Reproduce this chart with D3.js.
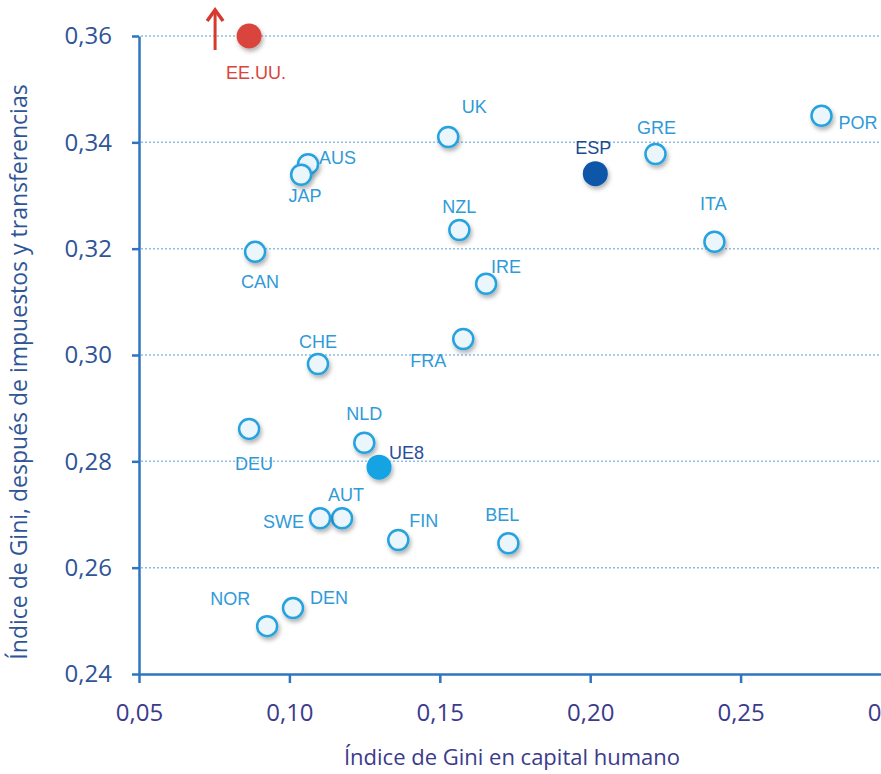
<!DOCTYPE html>
<html>
<head>
<meta charset="utf-8">
<script src="https://cdn.jsdelivr.net/npm/d3@7"></script>
<style>
  body { margin: 0; background: #fff; }
  svg { display: block; }
  .ax text { font-family: "Open Sans", sans-serif; }
</style>
</head>
<body>
<div id="chart"></div>
<script>
// country codes, x = Gini human capital, y = Gini after taxes & transfers
const countries = ["EE.UU.", "UK", "AUS", "JAP", "CAN", "NZL", "IRE", "ESP", "GRE", "POR", "ITA",
  "CHE", "FRA", "DEU", "NLD", "UE8", "AUT", "SWE", "FIN", "BEL", "NOR", "DEN"];
const giniHuman = [0.0866, 0.1528, 0.1062, 0.1039, 0.0886, 0.1565, 0.1654, 0.2017, 0.2217, 0.2769, 0.2413,
  0.1095, 0.1578, 0.0866, 0.1249, 0.1298, 0.1175, 0.1102, 0.1362, 0.1728, 0.0926, 0.1012];
const giniIncome = [0.360, 0.341, 0.3359, 0.3339, 0.3194, 0.3235, 0.3134, 0.3341, 0.3378, 0.345, 0.3213,
  0.2983, 0.303, 0.2861, 0.2835, 0.2789, 0.2693, 0.2693, 0.2652, 0.2646, 0.249, 0.2524];
// label placement relative to the point: [dx, dy of text centre, anchor]
const labelPos = [[7, 36, "middle"], [26, -31, "middle"], [11, -7, "start"], [4, 21, "middle"], [5, 30, "middle"],
  [0, -24, "middle"], [5, -17, "start"], [-2, -26, "middle"], [1, -27, "middle"], [17, 7, "start"],
  [-1, -38, "middle"], [0, -23, "middle"], [-35, 21, "middle"], [5, 35, "middle"], [0, -29, "middle"],
  [10, -15, "start"], [4, -24, "middle"], [-16, 3, "end"], [11, -20, "start"], [-6, -29, "middle"],
  [-37, -28, "middle"], [17, -11, "start"]];
const special = { "EE.UU.": "usa", "ESP": "esp", "UE8": "ue8" };

const xTicks = [0.05, 0.10, 0.15, 0.20, 0.25, 0.30];
const yTicks = [0.24, 0.26, 0.28, 0.30, 0.32, 0.34, 0.36];

const width = 881, height = 774;
const svg = d3.select("#chart").append("svg")
  .attr("width", width).attr("height", height);

const defs = svg.append("defs");
const shadow = defs.append("filter").attr("id", "shadow")
  .attr("x", "-50%").attr("y", "-50%").attr("width", "200%").attr("height", "200%");
shadow.append("feDropShadow").attr("dx", 1.5).attr("dy", 3).attr("stdDeviation", 2)
  .attr("flood-color", "#000").attr("flood-opacity", 0.3);

let x = d3.scaleLinear().domain([0.05, 0.30]).range([139, 891]);
let y = d3.scaleLinear().domain([0.24, 0.36]).range([674, 36]);
const fmt = d => d3.format(".2f")(d).replace(".", ",");

// gridlines
svg.append("g").selectAll("line")
  .data(yTicks.slice(1))
  .join("line")
  .attr("x1", 141).attr("x2", width)
  .attr("y1", d => y(d)).attr("y2", d => y(d))
  .attr("stroke", "#8fbde6").attr("stroke-width", 1.5)
  .attr("stroke-dasharray", "2,2");

// y axis
const yAxis = svg.append("g").attr("class", "ax")
  .attr("transform", "translate(139,0)")
  .call(d3.axisLeft(y).tickValues(yTicks).tickFormat(fmt).tickSize(7).tickSizeOuter(0));
yAxis.select(".domain").attr("stroke", "#2e74c0").attr("stroke-width", 2.5);
yAxis.selectAll(".tick line").attr("stroke", "#2e74c0").attr("stroke-width", 2.5);
yAxis.selectAll(".tick text").attr("font-size", 24).attr("fill", "#2f5597").attr("x", -27);

// x axis
const xAxis = svg.append("g").attr("class", "ax")
  .attr("transform", "translate(0,674)")
  .call(d3.axisBottom(x).tickValues(xTicks).tickFormat(fmt).tickSize(9).tickSizeOuter(0));
xAxis.select(".domain").attr("stroke", "#2e74c0").attr("stroke-width", 2.5);
xAxis.selectAll(".tick line").attr("stroke", "#2e74c0").attr("stroke-width", 2.5);
xAxis.selectAll(".tick text").attr("font-size", 24).attr("fill", "#3c3a8c").attr("y", 30);

// axis titles
svg.append("text")
  .attr("transform", "translate(27,372) rotate(-90)")
  .attr("text-anchor", "middle")
  .attr("font-family", "'Open Sans', sans-serif")
  .attr("font-size", 23).attr("fill", "#2f5597")
  .text("Índice de Gini, después de impuestos y transferencias");
svg.append("text")
  .attr("x", 512).attr("y", 765)
  .attr("text-anchor", "middle")
  .attr("font-family", "'Open Sans', sans-serif")
  .attr("font-size", 22).attr("fill", "#3c3a8c")
  .text("Índice de Gini en capital humano");

const pts = countries.map((c, i) => ({ name: c, gx: giniHuman[i], gy: giniIncome[i], lp: labelPos[i] }));

// arrow beside EE.UU. (point is off the top of the scale)
const ax = x(giniHuman[0]) - 34, ay = y(giniIncome[0]);
svg.append("line")
  .attr("x1", ax).attr("x2", ax)
  .attr("y1", ay + 14).attr("y2", ay - 25)
  .attr("stroke", "#d63a2f").attr("stroke-width", 3);
svg.append("path")
  .attr("d", `M${ax - 8},${ay - 15} L${ax},${ay - 26} L${ax + 8},${ay - 15}`)
  .attr("fill", "none").attr("stroke", "#d63a2f").attr("stroke-width", 3.5)
  .attr("stroke-linejoin", "miter");

svg.append("g").selectAll("circle")
  .data(pts)
  .join("circle")
  .attr("cx", d => x(d.gx))
  .attr("cy", d => y(d.gy))
  .attr("r", d => special[d.name] ? 12.5 : 10)
  .attr("fill", d => special[d.name] === "usa" ? "#d9443d" : special[d.name] === "esp" ? "#0e56a8" : special[d.name] === "ue8" ? "#12a3e3" : "#eaf5fc")
  .attr("stroke", d => special[d.name] ? "none" : "#27a2de")
  .attr("stroke-width", 2.5)
  .attr("filter", "url(#shadow)");

svg.append("g").selectAll("text")
  .data(pts)
  .join("text")
  .attr("x", d => x(d.gx) + d.lp[0])
  .attr("y", d => y(d.gy) + d.lp[1] + 6.5)
  .attr("text-anchor", d => d.lp[2])
  .attr("font-family", "'Liberation Sans', Arial, sans-serif")
  .attr("font-size", 18)
  .attr("fill", d => special[d.name] === "usa" ? "#d9443d" : special[d.name] === "esp" ? "#1c4a8f" : special[d.name] === "ue8" ? "#2a4d9c" : "#2f9ad8")
  .text(d => d.name);
</script>
</body>
</html>
